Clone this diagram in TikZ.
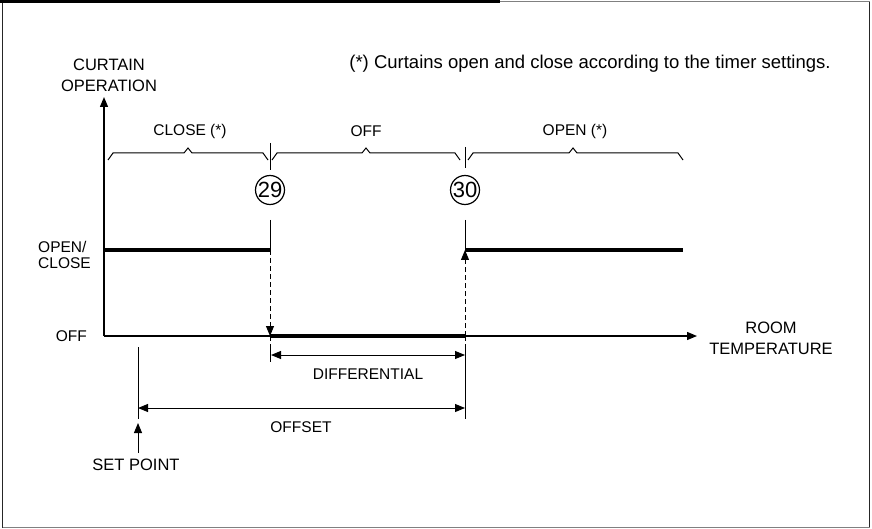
\documentclass[tikz,border=0pt]{standalone}
\usepackage{fontspec}
\setmainfont{Liberation Sans}
\usetikzlibrary{arrows.meta}
\begin{document}
\begin{tikzpicture}[x=1pt,y=-1pt,
  big/.style={inner sep=0pt, font=\fontsize{16.5}{21}\selectfont},
  lbl/.style={inner sep=0pt, font=\fontsize{15.5}{16}\selectfont},
  thinline/.style={line width=1pt, draw=black},
  axisline/.style={line width=1.3pt, draw=black},
  levelline/.style={line width=4.5pt, draw=black},
  dashline/.style={line width=1pt, dash pattern=on 5pt off 3pt},
  tipend/.style={-{Triangle[length=10pt,width=8pt]}},
  tipboth/.style={{Triangle[length=10pt,width=8pt]}-{Triangle[length=10pt,width=8pt]}},
  numcirc/.style={draw, line width=1.2pt, circle, minimum size=29pt, inner sep=0pt, font=\fontsize{22}{22}\selectfont}
]
\useasboundingbox (0,0) rectangle (872,529);
% frame
\draw[line width=1.2pt, black!85] (2.5,1.5) -- (2.5,527.5);
\draw[line width=1.2pt, black!85] (869.5,1.5) -- (869.5,527.5);
\draw[line width=1.5pt, gray] (2.5,527.5) -- (869.5,527.5);
\draw[line width=1.5pt, gray] (500,1.5) -- (869.5,1.5);
\draw[line width=2.5pt, black] (0,1.5) -- (500,1.5);

% axes
\coordinate (O) at (104,336);
\coordinate (Ytop) at (104,97);
\coordinate (Xend) at (697,336);
\draw[axisline, tipend] (O) -- (Ytop);
\draw[axisline, tipend] (O) -- (Xend);

% titles
\node[big, align=center] (ytitle) at (109,75) {CURTAIN\\OPERATION};
\node[big, font=\fontsize{18.5}{21}\selectfont] (note) at (590,64) {(*) Curtains open and close according to the timer settings.};
\node[big, align=center] (xtitle) at (771,338) {ROOM\\TEMPERATURE};

% level labels
\node[lbl, align=left, anchor=west] (lvopen) at (38,255) {OPEN/\\CLOSE};
\node[lbl, anchor=east] (lvoff) at (87,336) {OFF};

% braces
\draw[thinline] (108,160) -- (113,153) -- (184,153) -- (188,148) -- (192,153) -- (263,153) -- (268,160);
\draw[thinline] (272,160) -- (277,153) -- (362,153) -- (366,148) -- (370,153) -- (455,153) -- (460,160);
\draw[thinline] (468,160) -- (473,153) -- (569,153) -- (573,148) -- (577,153) -- (678,153) -- (683,160);
\node[lbl] (bclose) at (190,131) {CLOSE (*)};
\node[lbl] (boff) at (366,131) {OFF};
\node[lbl] (bopen) at (575,131) {OPEN (*)};

% ticks between braces
\coordinate (tk1a) at (270,143); \coordinate (tk1b) at (270,170);
\coordinate (tk2a) at (465,147); \coordinate (tk2b) at (465,168);
\draw[thinline] (tk1a) -- (tk1b);
\draw[thinline] (tk2a) -- (tk2b);

% circles
\node[numcirc] (c29) at (270,190) {29};
\node[numcirc] (c30) at (465,190) {30};

% level lines
\coordinate (oc1) at (104,250);
\coordinate (oc2) at (270,250);
\coordinate (oc3) at (465,250);
\coordinate (oc4) at (683,250);
\coordinate (off1) at (270,336);
\coordinate (off2) at (465,336);
\draw[levelline] (oc1) -- (oc2);
\draw[levelline] (oc3) -- (oc4);
\draw[levelline] (off1) -- (off2);

% switching lines
\coordinate (s29) at (270,220);
\coordinate (s30) at (465,220);
\draw[thinline] (s29) -- (oc2);
\draw[thinline] (s30) -- (oc3);
\draw[dashline, tipend] (oc2) -- (off1);
\draw[dashline, tipend] (off2) -- (oc3);

% dimension ticks
\coordinate (d1a) at (270,346); \coordinate (d1b) at (270,362);
\coordinate (d2a) at (465,346); \coordinate (d2b) at (465,419);
\draw[dashline] (off1) -- (d1a);
\draw[dashline] (off2) -- (d2a);
\draw[thinline] (d1a) -- (d1b);
\draw[thinline] (d2a) -- (d2b);
\coordinate (sp1) at (138,347); \coordinate (sp2) at (138,419);
\draw[thinline] (sp1) -- (sp2);

% differential
\coordinate (dfl) at (271,355); \coordinate (dfr) at (465,355);
\draw[thinline, tipboth] (dfl) -- (dfr);
\node[lbl] (diff) at (368,374) {DIFFERENTIAL};

% offset
\coordinate (ofl) at (138,408); \coordinate (ofr) at (465,408);
\draw[thinline, tipboth] (ofl) -- (ofr);
\node[lbl] (offset) at (301,427) {OFFSET};

% set point
\coordinate (spt) at (138,423); \coordinate (spb) at (138,453);
\draw[thinline, tipend] (spb) -- (spt);
\node[big] (setpoint) at (136,465) {SET POINT};
\end{tikzpicture}
\end{document}
